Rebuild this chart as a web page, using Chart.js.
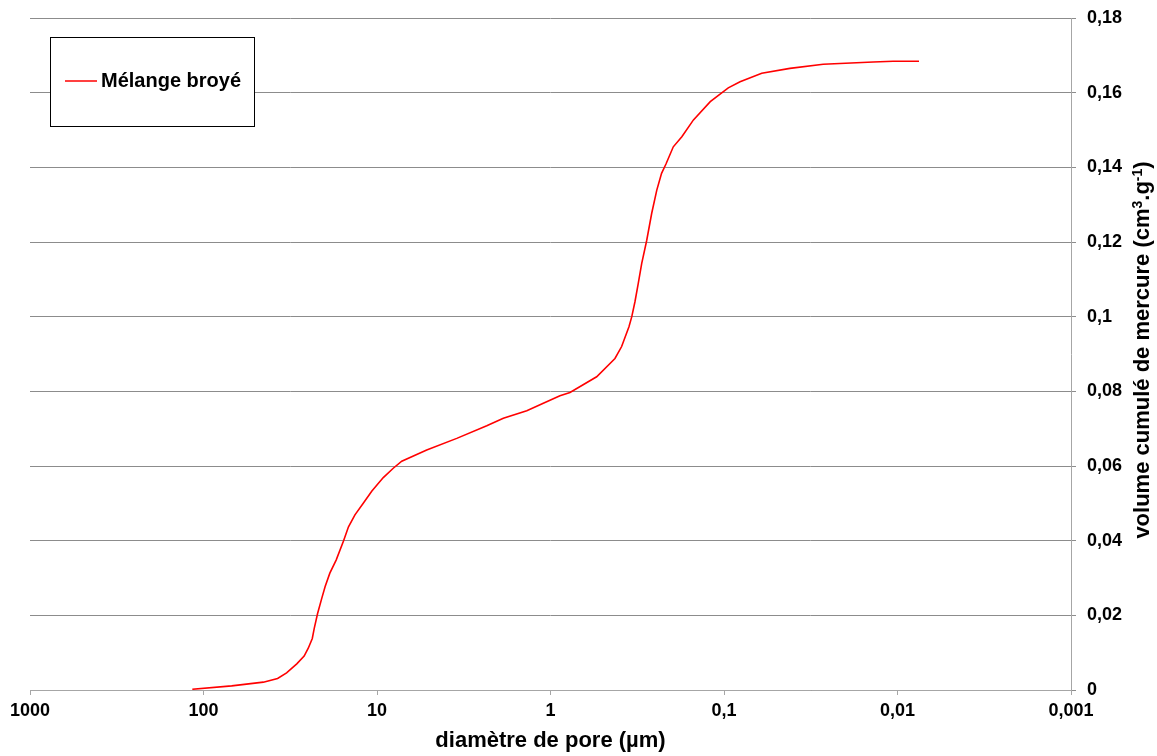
<!DOCTYPE html>
<html>
<head>
<meta charset="utf-8">
<script src="https://cdn.jsdelivr.net/npm/chart.js@4/dist/chart.umd.min.js"></script>
<style>
html,body{margin:0;padding:0;background:#fff;}
#wrap{width:1157px;height:756px;position:relative;}
</style>
</head>
<body>
<div id="wrap"><canvas id="c" width="1157" height="756"></canvas></div>
<script>
// ---- data ----
const seriesLabel = 'Mélange broyé';
const diameters = [116.0, 68.8, 45.2, 37.4, 33.2, 29.0, 26.3, 24.9, 23.6, 23.0, 22.0, 20.8, 19.9, 18.7, 17.2, 15.6, 14.6, 13.4, 12.0, 10.7, 9.20, 8.06, 7.20, 5.17, 3.47, 2.33, 1.87, 1.37, 1.10, 0.882, 0.772, 0.542, 0.425, 0.389, 0.353, 0.340, 0.326, 0.312, 0.298, 0.279, 0.261, 0.244, 0.229, 0.216, 0.196, 0.175, 0.150, 0.120, 0.0945, 0.0808, 0.0606, 0.0417, 0.0268, 0.0138, 0.0106, 0.00752];
const volumes = [0.0002, 0.0011, 0.0021, 0.0031, 0.0046, 0.0070, 0.0091, 0.0112, 0.0138, 0.0165, 0.0205, 0.0246, 0.0277, 0.0313, 0.0348, 0.0399, 0.0437, 0.0469, 0.0500, 0.0533, 0.0569, 0.0594, 0.0613, 0.0643, 0.0674, 0.0708, 0.0728, 0.0748, 0.0768, 0.0788, 0.0797, 0.0839, 0.0888, 0.0920, 0.0973, 0.1000, 0.1040, 0.1089, 0.1143, 0.1204, 0.1277, 0.1339, 0.1384, 0.1409, 0.1455, 0.1482, 0.1527, 0.1576, 0.1613, 0.1629, 0.1652, 0.1665, 0.1676, 0.1682, 0.1684, 0.1684];
const xTickValues = [1000, 100, 10, 1, 0.1, 0.01, 0.001];
const xTickLabels = ['1000', '100', '10', '1', '0,1', '0,01', '0,001'];
const yTickValues = [0, 0.02, 0.04, 0.06, 0.08, 0.1, 0.12, 0.14, 0.16, 0.18];
const yTickLabels = ['0', '0,02', '0,04', '0,06', '0,08', '0,1', '0,12', '0,14', '0,16', '0,18'];
const xTitle = 'diamètre de pore (µm)';
const yTitleParts = [['volume cumulé de mercure (cm', false], ['3', true], ['.g', false], ['-1', true], [')', false]];

const FONT = "'Liberation Sans', Arial, sans-serif";
const RED = '#ff0000';

const points = diameters.map((d, i) => ({x: d, y: volumes[i]}));

const legendAndTitlePlugin = {
  id: 'legendAndTitle',
  afterDraw(chart) {
    const ctx = chart.ctx;
    ctx.save();
    // legend box
    ctx.strokeStyle = '#000';
    ctx.lineWidth = 1;
    ctx.fillStyle = '#fff';
    ctx.fillRect(50, 37, 204, 89);
    ctx.strokeRect(50.5, 37.5, 204, 89);
    ctx.strokeStyle = RED;
    ctx.lineWidth = 1.5;
    ctx.beginPath();
    ctx.moveTo(65, 81);
    ctx.lineTo(97, 81);
    ctx.stroke();
    ctx.fillStyle = '#000';
    ctx.font = 'bold 20px ' + FONT;
    ctx.textBaseline = 'middle';
    ctx.textAlign = 'left';
    ctx.fillText(chart.data.datasets[0].label, 101, 81);
    // y axis title (reads bottom to top)
    const big = 'bold 22px ' + FONT, small = 'bold 14px ' + FONT;
    let total = 0;
    yTitleParts.forEach(([t, sup]) => { ctx.font = sup ? small : big; total += ctx.measureText(t).width; });
    ctx.translate(1142, 350);
    ctx.rotate(-Math.PI / 2);
    let x = -total / 2;
    ctx.textBaseline = 'alphabetic';
    yTitleParts.forEach(([t, sup]) => {
      ctx.font = sup ? small : big;
      ctx.fillText(t, x, sup ? 0 : 7);
      x += ctx.measureText(t).width;
    });
    ctx.restore();
  }
};

new Chart(document.getElementById('c'), {
  type: 'line',
  data: {
    datasets: [{
      label: seriesLabel,
      data: points,
      borderColor: RED,
      backgroundColor: RED,
      borderWidth: 1.6,
      pointRadius: 0,
      tension: 0,
      fill: false
    }]
  },
  options: {
    responsive: false,
    animation: false,
    devicePixelRatio: 1,
    layout: {padding: {left: 30, top: 18, right: 0, bottom: 0}},
    plugins: {legend: {display: false}, tooltip: {enabled: false}},
    scales: {
      x: {
        type: 'logarithmic',
        position: 'bottom',
        reverse: true,
        min: 0.001,
        max: 1000,
        afterBuildTicks(scale) { scale.ticks = xTickValues.map(v => ({value: v})); },
        afterFit(scale) { scale.height = 66; },
        ticks: {
          autoSkip: false,
          maxRotation: 0,
          padding: 5,
          color: '#000',
          font: {family: FONT, size: 18, weight: 'bold'},
          callback: (v) => xTickLabels[xTickValues.indexOf(v)]
        },
        grid: {drawOnChartArea: false, drawTicks: true, tickLength: 5, color: '#a6a6a6'},
        border: {display: true, color: '#a6a6a6', width: 1},
        title: {display: true, text: xTitle, color: '#000', font: {family: FONT, size: 22, weight: 'bold'}, padding: {top: 0, bottom: 2}}
      },
      y: {
        type: 'linear',
        position: 'right',
        min: 0,
        max: 0.18,
        afterBuildTicks(scale) { scale.ticks = yTickValues.map(v => ({value: v})); },
        afterFit(scale) { scale.width = 86; scale.paddingTop = 0; scale.paddingBottom = 0; },
        ticks: {
          padding: 11,
          color: '#000',
          font: {family: FONT, size: 18, weight: 'bold'},
          callback: (v, i) => yTickLabels[i]
        },
        grid: {drawOnChartArea: true, drawTicks: true, tickLength: 5, color: '#8c8c8c'},
        border: {display: true, color: '#a6a6a6', width: 1}
      }
    }
  },
  plugins: [legendAndTitlePlugin]
});
</script>
</body>
</html>
